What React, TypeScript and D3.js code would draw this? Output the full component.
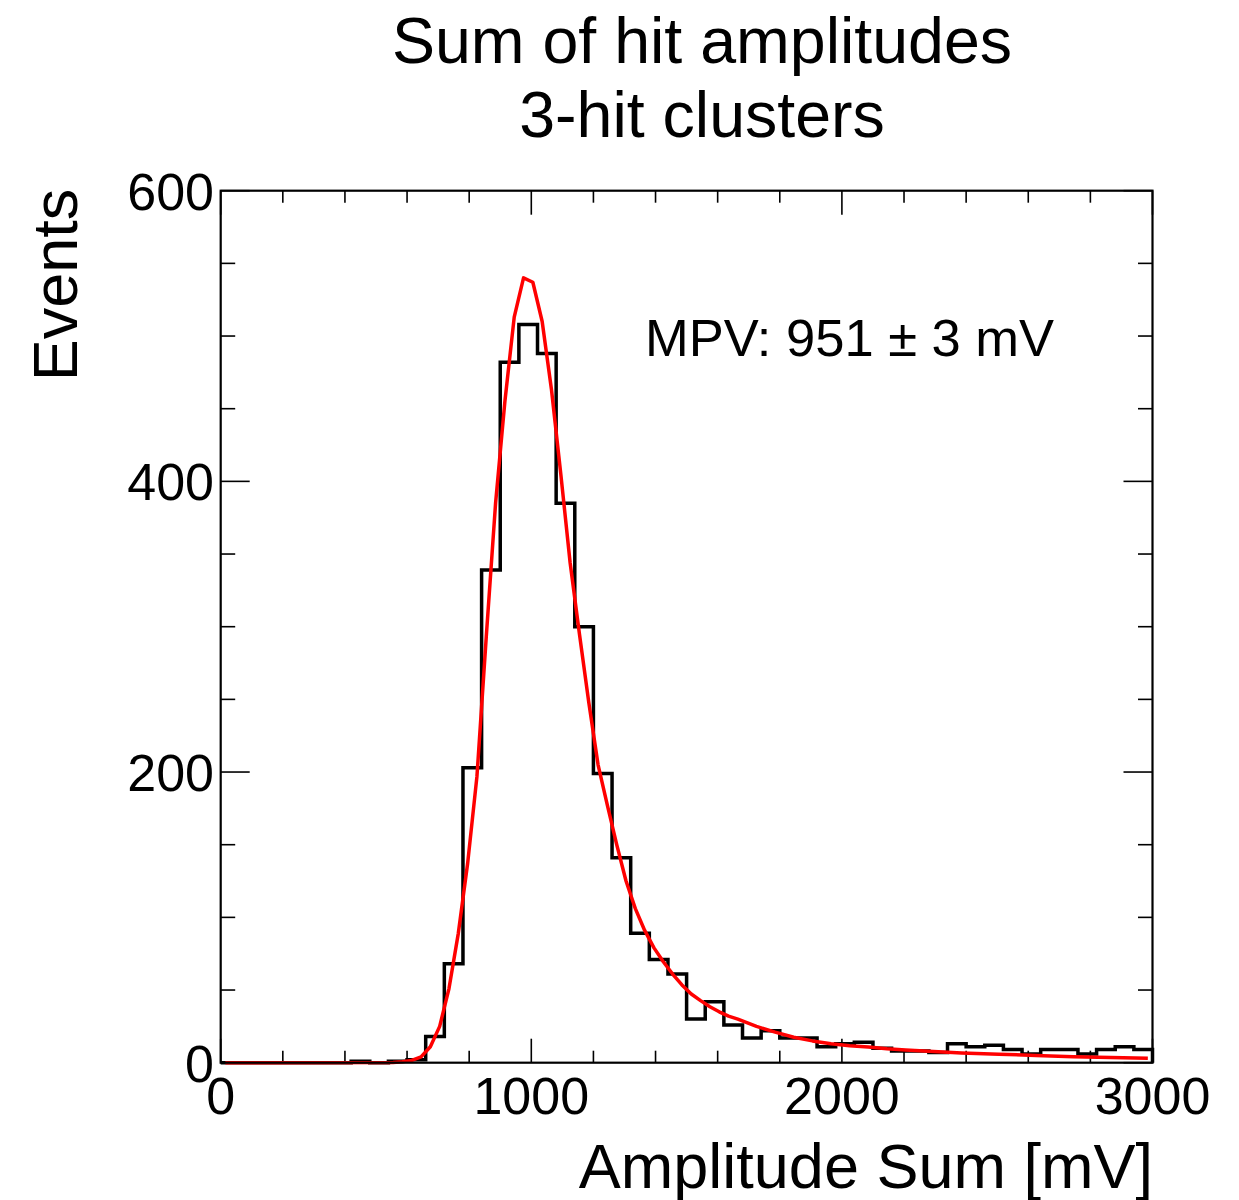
import React from "react";
import * as d3 from "d3";

// ---- data ----
const binWidth = 60; // mV
const binStart = 0;
const counts = [
  0, 0, 0, 0, 0, 0, 0, 1, 0, 1,
  2, 18, 68, 203, 339, 482, 508, 488, 385, 300,
  199, 141, 89, 71, 61, 30, 42, 26, 17, 22,
  17, 17, 11, 13, 14, 10, 8, 8, 7, 13,
  11, 12, 9, 6, 9, 9, 6, 9, 11, 9,
];

const fitX = [
  15, 555, 585, 615, 645, 675, 705, 735, 765, 795, 825, 855, 885, 915, 945, 975,
  1005, 1035, 1065, 1095, 1125, 1155, 1185, 1215, 1245, 1275, 1305, 1335, 1365,
  1395, 1425, 1455, 1485, 1515, 1545, 1575, 1605, 1635, 1665, 1725, 1785, 1845,
  1905, 1965, 2025, 2085, 2145, 2205, 2265, 2385, 2505, 2625, 2745, 2865, 2985,
];
const fitY = [
  0, 0.2, 0.6, 1.6, 4, 11, 25, 51, 89, 137, 197, 293, 385, 455, 513, 540,
  537, 510, 463, 405, 344, 295, 248, 205, 177, 150, 125, 106, 91,
  79, 69.5, 61, 53.5, 47.3, 42.7, 38.5, 35, 32, 30, 25, 21, 17.5,
  15, 13, 11.7, 10.8, 9.6, 8.7, 8, 6.7, 5.8, 5, 4.1, 3.5, 3.0,
];

const xMajor = [0, 1000, 2000, 3000];
const xMinor = [200, 400, 600, 800, 1200, 1400, 1600, 1800, 2200, 2400, 2600, 2800];
const yMajor = [0, 200, 400, 600];
const yMinor = [50, 100, 150, 250, 300, 350, 450, 500, 550];

const titleLines = ["Sum of hit amplitudes", "3-hit clusters"];
const xTitle = "Amplitude Sum [mV]";
const yTitle = "Events";
const mpvText = "MPV: 951 \u00B1 3 mV";

export default function App() {
  const L = 220.7, R = 1152.5, T = 190.7, B = 1062.7;
  const x = d3.scaleLinear().domain([0, 3000]).range([L, R]);
  const y = d3.scaleLinear().domain([0, 600]).range([B, T]);
  const font = "'Liberation Sans', Arial, Helvetica, sans-serif";

  // histogram step path
  let hp = `M${x(binStart)},${y(0)}`;
  counts.forEach((c, i) => {
    const x0 = x(binStart + i * binWidth);
    const x1 = x(binStart + (i + 1) * binWidth);
    hp += `L${x0},${y(c)}L${x1},${y(c)}`;
  });
  hp += `L${x(binStart + counts.length * binWidth)},${y(0)}`;

  const fitLine = d3
    .line<number>()
    .x((_, i) => x(fitX[i]))
    .y((d) => y(d))
    .curve(d3.curveLinear);

  const xMajLen = 24, xMinLen = 12, yMajLen = 29, yMinLen = 14.5;

  return (
    <svg
      width={1239}
      height={1200}
      style={{ position: "absolute", left: 0, top: 0, background: "#fff" }}
      fontFamily={font}
    >
      <rect x={0} y={0} width={1239} height={1200} fill="#fff" />
      {/* title */}
      <text x={702} y={63} fontSize={64.5} textAnchor="middle" fill="#000">
        {titleLines[0]}
      </text>
      <text x={702} y={137} fontSize={64.5} textAnchor="middle" fill="#000">
        {titleLines[1]}
      </text>

      {/* ticks */}
      <g stroke="#000" strokeWidth={1.6}>
        {xMajor.map((v) => (
          <g key={"xM" + v}>
            <line x1={x(v)} x2={x(v)} y1={B} y2={B - xMajLen} />
            <line x1={x(v)} x2={x(v)} y1={T} y2={T + xMajLen} />
          </g>
        ))}
        {xMinor.map((v) => (
          <g key={"xm" + v}>
            <line x1={x(v)} x2={x(v)} y1={B} y2={B - xMinLen} />
            <line x1={x(v)} x2={x(v)} y1={T} y2={T + xMinLen} />
          </g>
        ))}
        {yMajor.map((v) => (
          <g key={"yM" + v}>
            <line x1={L} x2={L + yMajLen} y1={y(v)} y2={y(v)} />
            <line x1={R} x2={R - yMajLen} y1={y(v)} y2={y(v)} />
          </g>
        ))}
        {yMinor.map((v) => (
          <g key={"ym" + v}>
            <line x1={L} x2={L + yMinLen} y1={y(v)} y2={y(v)} />
            <line x1={R} x2={R - yMinLen} y1={y(v)} y2={y(v)} />
          </g>
        ))}
      </g>

      {/* histogram */}
      <path d={hp} fill="none" stroke="#000" strokeWidth={3.5} strokeLinejoin="miter" />

      {/* fit */}
      <path d={fitLine(fitY) || ""} fill="none" stroke="#ff0000" strokeWidth={3.5} strokeLinejoin="round" />

      {/* frame */}
      <rect x={L} y={T} width={R - L} height={B - T} fill="none" stroke="#000" strokeWidth={2.2} />

      {/* tick labels */}
      {xMajor.map((v) => (
        <text key={"xl" + v} x={x(v)} y={1114} fontSize={52} textAnchor="middle" fill="#000">
          {v}
        </text>
      ))}
      {yMajor.map((v) => (
        <text key={"yl" + v} x={214} y={y(v) + 19} fontSize={52} textAnchor="end" fill="#000">
          {v}
        </text>
      ))}

      {/* axis titles */}
      <text x={1153} y={1188} fontSize={63} textAnchor="end" fill="#000">
        {xTitle}
      </text>
      <text
        transform={`translate(77,${T - 2}) rotate(-90)`}
        fontSize={63}
        textAnchor="end"
        fill="#000"
      >
        {yTitle}
      </text>

      {/* annotation */}
      <text x={645} y={356} fontSize={52.5} fill="#000">
        {mpvText}
      </text>
    </svg>
  );
}
